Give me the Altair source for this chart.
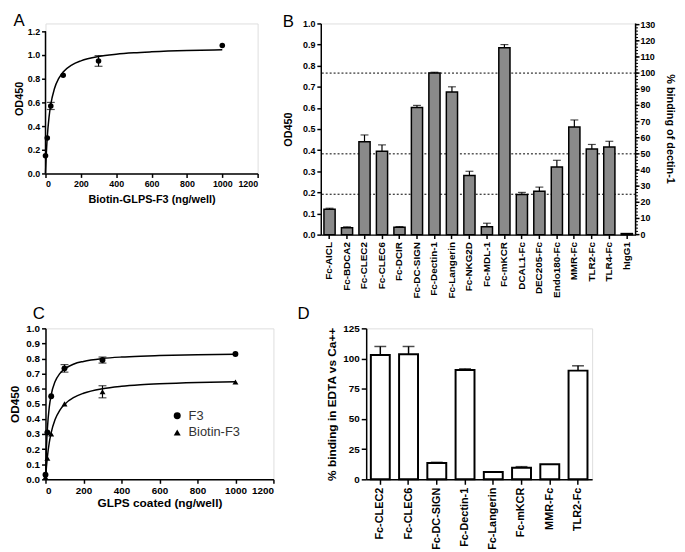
import altair as alt
import pandas as pd

FONT = "Liberation Sans"

# ---------------- Panel A data ----------------
a_x = [0, 10, 30, 100, 300, 1000]
a_y = [0.15, 0.30, 0.57, 0.83, 0.95, 1.08]
a_err = [0.0, 0.0, 0.03, 0.0, 0.045, 0.0]
a_fit_x = [0, 5, 10, 20, 30, 50, 75, 100, 150, 200, 300, 400, 500, 600, 800, 1000]
a_fit_y = [0.0, 0.178, 0.306, 0.476, 0.584, 0.713, 0.803, 0.856, 0.917, 0.951,
           0.988, 1.007, 1.019, 1.027, 1.038, 1.044]
a_y_ticks = [0.0, 0.2, 0.4, 0.6, 0.8, 1.0, 1.2]
x_ticks = [0, 200, 400, 600, 800, 1000, 1200]

# ---------------- Panel B data ----------------
b_names = ["Fc-AICL", "Fc-BDCA2", "Fc-CLEC2", "Fc-CLEC6", "Fc-DCIR", "Fc-DC-SIGN",
           "Fc-Dectin-1", "Fc-Langerin", "Fc-NKG2D", "Fc-MDL-1", "Fc-mKCR", "DCAL1-Fc",
           "DEC205-Fc", "Endo180-Fc", "MMR-Fc", "TLR2-Fc", "TLR4-Fc", "hIgG1"]
b_od = [0.12, 0.033, 0.44, 0.395, 0.035, 0.602, 0.765, 0.675, 0.28, 0.037, 0.885, 0.19,
        0.205, 0.32, 0.51, 0.405, 0.415, 0.005]
b_err = [0.005, 0.004, 0.032, 0.03, 0.003, 0.01, 0.004, 0.025, 0.02, 0.017, 0.015, 0.01,
         0.02, 0.032, 0.033, 0.022, 0.027, 0.0]
b_y_ticks = [0.0, 0.1, 0.2, 0.3, 0.4, 0.5, 0.6, 0.7, 0.8, 0.9, 1.0]
b_pct_lines = [25, 50, 100]
b_pct_ticks = [0, 10, 20, 30, 40, 50, 60, 70, 80, 90, 100, 110, 120, 130]
b_pct_minor_step = 2
b_ref_od = 0.765  # OD450 of Fc-Dectin-1 = 100 %
b_right_title = "% binding of dectin-1"

# ---------------- Panel C data ----------------
c_x = [0, 10, 30, 100, 300, 1000]
c_f3_y = [0.03, 0.31, 0.55, 0.735, 0.79, 0.83]
c_f3_err = [0.0, 0.0, 0.0, 0.025, 0.02, 0.0]
c_bf3_y = [0.015, 0.14, 0.30, 0.50, 0.58, 0.645]
c_bf3_err = [0.0, 0.0, 0.0, 0.0, 0.04, 0.0]
c_fit_x = [0, 5, 10, 20, 30, 50, 75, 100, 150, 200, 300, 400, 500, 600, 800, 1000]
c_f3_fit = [0.0, 0.21, 0.336, 0.48, 0.56, 0.646, 0.70, 0.730, 0.764, 0.781, 0.80,
            0.810, 0.816, 0.820, 0.825, 0.828]
c_bf3_fit = [0.0, 0.084, 0.149, 0.244, 0.309, 0.394, 0.457, 0.496, 0.543, 0.570, 0.600,
             0.616, 0.626, 0.633, 0.642, 0.647]
c_series = ["F3", "Biotin-F3"]
c_y_ticks = [0.0, 0.1, 0.2, 0.3, 0.4, 0.5, 0.6, 0.7, 0.8, 0.9, 1.0]

# ---------------- Panel D data ----------------
d_names = ["Fc-CLEC2", "Fc-CLEC6", "Fc-DC-SIGN", "Fc-Dectin-1", "Fc-Langerin",
           "Fc-mKCR", "MMR-Fc", "TLR2-Fc"]
d_val = [103.0, 103.5, 13.5, 90.5, 6.0, 9.5, 12.5, 90.0]
d_err = [7.0, 6.5, 0.6, 1.0, 0.0, 1.0, 0.0, 4.0]
d_y_ticks = [0, 25, 50, 75, 100, 125]

# ---------------- layout constants ----------------
A_W, A_H = 215, 144
A_EXTRA = 8          # headroom so that panel B's taller frame lines up
B_W, B_H = 319, 214
C_W, C_H = 231, 153
D_W, D_H = 229, 153


def ax(**kw):
    base = dict(domainColor="black", domainWidth=1.5, tickColor="black", tickWidth=1.5,
                tickSize=4, labelFont=FONT, labelFontWeight="bold", labelColor="black",
                titleFont=FONT, titleFontWeight="bold", titleColor="black", grid=False,
                labelPadding=2, labelOverlap=False)
    base.update(kw)
    return alt.Axis(**base)


def letter(t, offset=0, dx=0):
    return alt.Title(t, anchor="start", fontSize=17, fontWeight="normal", font=FONT,
                     color="black", offset=offset, dx=dx)


# ======== Panel A ========
dfA = pd.DataFrame({"x": a_x, "y": a_y, "err": a_err})
dfA["lo"] = dfA["y"] - dfA["err"]
dfA["hi"] = dfA["y"] + dfA["err"]
dfAfit = pd.DataFrame({"x": a_fit_x, "y": a_fit_y})
a_top = a_y_ticks[-1]
a_dom_top = a_top * (A_H + A_EXTRA) / A_H

A_xscale = alt.Scale(domain=[0, 1200], nice=False)
A_xaxis = ax(values=x_ticks, format="d", title="Biotin-GLPS-F3 (ng/well)",
             labelFontSize=9, titleFontSize=11, titlePadding=5)
A_yscale = alt.Scale(domain=[0, a_dom_top], nice=False)
A_yaxis = ax(values=a_y_ticks, format=".1f", title="OD450", domain=False,
             labelFontSize=9, titleFontSize=11, titlePadding=3)


def xa(f):
    return alt.X(f, scale=A_xscale, axis=A_xaxis)


def ya(f):
    return alt.Y(f, scale=A_yscale, axis=A_yaxis)


A_axisline = alt.Chart(pd.DataFrame({"x": [0], "y": [0.0], "y2": [a_top]})).mark_rule(
    color="black", strokeWidth=1.5).encode(x=xa("x:Q"), y=ya("y:Q"), y2="y2:Q")
A_fit = alt.Chart(dfAfit).mark_line(color="black", strokeWidth=1.5,
                                    interpolate="monotone").encode(x=xa("x:Q"), y=ya("y:Q"))
A_pts = alt.Chart(dfA).mark_point(filled=True, color="black", size=32, opacity=1).encode(
    x=xa("x:Q"), y=ya("y:Q"))
A_err = alt.Chart(dfA).transform_filter("datum.err > 0").mark_rule(
    color="black", strokeWidth=1.2).encode(x=xa("x:Q"), y=ya("lo:Q"), y2="hi:Q")
A_cap1 = alt.Chart(dfA).transform_filter("datum.err > 0").mark_tick(
    orient="horizontal", color="black", size=8, thickness=1.2).encode(x=xa("x:Q"), y=ya("lo:Q"))
A_cap2 = alt.Chart(dfA).transform_filter("datum.err > 0").mark_tick(
    orient="horizontal", color="black", size=8, thickness=1.2).encode(x=xa("x:Q"), y=ya("hi:Q"))
A = alt.layer(A_fit, A_axisline, A_err, A_cap1, A_cap2, A_pts).properties(
    width=A_W, height=A_H + A_EXTRA, title=letter("A", offset=-7))

# ======== Panel B ========
dfB = pd.DataFrame({"name": b_names, "od": b_od, "err": b_err})
dfB["hi"] = dfB["od"] + dfB["err"]
dfBL = pd.DataFrame({"pct": b_pct_lines})
dfBL["od"] = dfBL["pct"] / 100 * b_ref_od
dfPct = pd.DataFrame({"pct": b_pct_ticks})
dfPct["od"] = dfPct["pct"] / 100 * b_ref_od
dfPct["label"] = dfPct["pct"].astype(str)
dfPctMinor = pd.DataFrame({"pct": list(range(0, b_pct_ticks[-1] + 1, b_pct_minor_step))})
dfPctMinor["od"] = dfPctMinor["pct"] / 100 * b_ref_od
dfRT = pd.DataFrame({"t": [b_right_title], "y0": [0.0], "y1": [1.0]})

B_xscale = alt.Scale(paddingInner=0.36, paddingOuter=0.18)
B_xaxis = ax(labelAngle=270, title=None, labelFontSize=10, labelPadding=3)
B_yscale = alt.Scale(domain=[0, 1.0], nice=False)
B_yaxis = ax(values=b_y_ticks, format=".1f", title="OD450",
             labelFontSize=9, titleFontSize=11, titlePadding=9)


def xb(f):
    return alt.X(f, sort=b_names, scale=B_xscale, axis=B_xaxis)


def yb(f):
    return alt.Y(f, scale=B_yscale, axis=B_yaxis)


B_lines = alt.Chart(dfBL).mark_rule(color="black", strokeWidth=1, strokeDash=[2, 2]).encode(
    y=yb("od:Q"))
B_bars = alt.Chart(dfB).mark_bar(fill="#8a8a8a", stroke="black", strokeWidth=1.5).encode(
    x=xb("name:N"), y=yb("od:Q"))
B_err = alt.Chart(dfB).transform_filter("datum.err > 0").mark_rule(
    color="black", strokeWidth=1.2).encode(x=xb("name:N"), y=yb("od:Q"), y2="hi:Q")
B_cap = alt.Chart(dfB).transform_filter("datum.err > 0").mark_tick(
    orient="horizontal", color="black", size=8, thickness=1.2).encode(
    x=xb("name:N"), y=yb("hi:Q"))
# right-hand "% binding of dectin-1" axis, drawn on the same OD scale
B_rline = alt.Chart(dfRT).mark_rule(color="black", strokeWidth=1.5).encode(
    x=alt.value(B_W), y=yb("y0:Q"), y2="y1:Q")
B_rmajor = alt.Chart(dfPct).mark_rule(color="black", strokeWidth=1.5).encode(
    x=alt.value(B_W), x2=alt.value(B_W + 4), y=yb("od:Q"))
B_rminor = alt.Chart(dfPctMinor).mark_rule(color="black", strokeWidth=1).encode(
    x=alt.value(B_W), x2=alt.value(B_W + 2.5), y=yb("od:Q"))
B_rlabels = alt.Chart(dfPct).mark_text(align="left", baseline="middle", font=FONT,
                                       fontSize=9, fontWeight="bold", color="black").encode(
    x=alt.value(B_W + 5), y=yb("od:Q"), text="label:N")
B_rtitle = alt.Chart(dfRT).mark_text(angle=90, align="center", baseline="middle", font=FONT,
                                     fontSize=11, fontWeight="bold", color="black").encode(
    x=alt.value(B_W + 35), y=alt.value(B_H / 2), text="t:N")
B = alt.layer(B_lines, B_bars, B_err, B_cap, B_rline, B_rmajor, B_rminor, B_rlabels,
              B_rtitle).properties(width=B_W, height=B_H, title=letter("B", offset=-12))

# ======== Panel C ========
c_rows = []
for s, ys, es in [("F3", c_f3_y, c_f3_err), ("Biotin-F3", c_bf3_y, c_bf3_err)]:
    for x, y, e in zip(c_x, ys, es):
        c_rows.append({"series": s, "x": x, "y": y, "err": e, "lo": y - e, "hi": y + e})
dfC = pd.DataFrame(c_rows)
fit_rows = []
for s, ys in [("F3", c_f3_fit), ("Biotin-F3", c_bf3_fit)]:
    for x, y in zip(c_fit_x, ys):
        fit_rows.append({"series": s, "x": x, "y": y})
dfCfit = pd.DataFrame(fit_rows)

C_xscale = alt.Scale(domain=[0, 1200], nice=False)
C_xaxis = ax(values=x_ticks, format="d", title="GLPS coated (ng/well)",
             labelFontSize=10, titleFontSize=12, titlePadding=3)
C_yscale = alt.Scale(domain=[0, 1.0], nice=False)
C_yaxis = ax(values=c_y_ticks, format=".1f", title="OD450",
             labelFontSize=10, titleFontSize=12, titlePadding=4)


def xc(f):
    return alt.X(f, scale=C_xscale, axis=C_xaxis)


def yc(f):
    return alt.Y(f, scale=C_yscale, axis=C_yaxis)


C_fit = alt.Chart(dfCfit).mark_line(color="black", strokeWidth=1.5,
                                    interpolate="monotone").encode(
    x=xc("x:Q"), y=yc("y:Q"), detail="series:N")
C_err = alt.Chart(dfC).transform_filter("datum.err > 0").mark_rule(
    color="black", strokeWidth=1.2).encode(x=xc("x:Q"), y=yc("lo:Q"), y2="hi:Q")
C_cap1 = alt.Chart(dfC).transform_filter("datum.err > 0").mark_tick(
    orient="horizontal", color="black", size=8, thickness=1.2).encode(x=xc("x:Q"), y=yc("lo:Q"))
C_cap2 = alt.Chart(dfC).transform_filter("datum.err > 0").mark_tick(
    orient="horizontal", color="black", size=8, thickness=1.2).encode(x=xc("x:Q"), y=yc("hi:Q"))
C_pts = alt.Chart(dfC).mark_point(filled=True, color="black", size=36, opacity=1).encode(
    x=xc("x:Q"), y=yc("y:Q"),
    shape=alt.Shape("series:N",
                    scale=alt.Scale(domain=c_series, range=["circle", "triangle-up"]),
                    legend=alt.Legend(title=None, orient="none", legendX=127, legendY=391,
                                      labelFont=FONT, labelFontSize=13, labelColor="#333333",
                                      symbolFillColor="black", symbolStrokeColor="black",
                                      symbolSize=50, rowPadding=3, labelOffset=5, padding=0)))
C = alt.layer(C_fit, C_err, C_cap1, C_cap2, C_pts).properties(
    width=C_W, height=C_H, title=letter("C", offset=0, dx=24))

# ======== Panel D ========
dfD = pd.DataFrame({"name": d_names, "val": d_val, "err": d_err})
dfD["hi"] = dfD["val"] + dfD["err"]
D_xscale = alt.Scale(paddingInner=0.33, paddingOuter=0.165)
D_xaxis = ax(labelAngle=270, title=None, labelFontSize=11, labelPadding=3, tickSize=5)
D_yscale = alt.Scale(domain=[0, 125], nice=False)
D_yaxis = ax(values=d_y_ticks, title="% binding in EDTA vs Ca++",
             labelFontSize=10, titleFontSize=12, titlePadding=4, tickSize=5)


def xd(f):
    return alt.X(f, sort=d_names, scale=D_xscale, axis=D_xaxis)


def yd(f):
    return alt.Y(f, scale=D_yscale, axis=D_yaxis)


D_bars = alt.Chart(dfD).mark_bar(fill="white", stroke="black", strokeWidth=2).encode(
    x=xd("name:N"), y=yd("val:Q"))
D_err = alt.Chart(dfD).transform_filter("datum.err > 0").mark_rule(
    color="black", strokeWidth=1.5).encode(x=xd("name:N"), y=yd("val:Q"), y2="hi:Q")
D_cap = alt.Chart(dfD).transform_filter("datum.err > 0").mark_tick(
    orient="horizontal", color="black", size=12, thickness=1.5).encode(
    x=xd("name:N"), y=yd("hi:Q"))
D = alt.layer(D_bars, D_err, D_cap).properties(
    width=D_W, height=D_H, title=letter("D", offset=0, dx=-29))

row1 = alt.hconcat(A, B, spacing=22)
row2 = alt.hconcat(C, D, spacing=21)
chart = alt.vconcat(row1, row2, spacing=6).properties(padding=0).configure_view(
    stroke=None).configure(font=FONT)

chart.save("out.html", embed_options={"renderer": "svg", "actions": False})
